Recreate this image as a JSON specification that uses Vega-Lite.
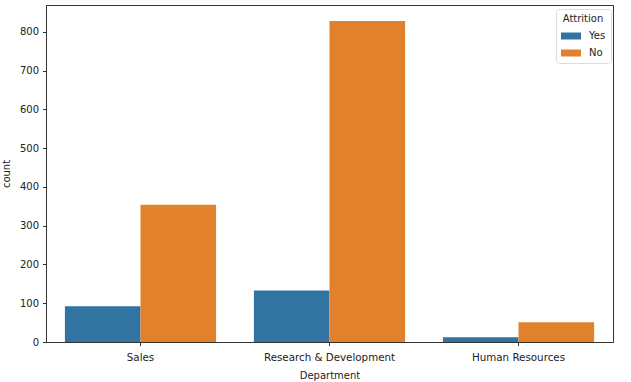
{
  "$schema": "https://vega.github.io/schema/vega-lite/v6.json",
  "autosize": "none",
  "width": 567,
  "height": 337,
  "padding": {"left": 46, "top": 5, "right": 18, "bottom": 40},
  "background": "white",
  "config": {
    "font": "DejaVu Sans",
    "view": {"stroke": "#333333", "strokeWidth": 1},
    "axis": {"grid": false, "labelFont": "DejaVu Sans", "titleFont": "DejaVu Sans", "labelFontSize": 10, "titleFontSize": 10, "labelColor": "#222222", "titleColor": "#222222", "titleFontWeight": "normal", "domainColor": "#333333", "tickColor": "#333333", "tickSize": 3.5, "labelPadding": 4}
  },
  "data": {
    "values": [
      {"Department": "Sales", "Attrition": "Yes", "count": 92},
      {"Department": "Sales", "Attrition": "No", "count": 354},
      {"Department": "Research & Development", "Attrition": "Yes", "count": 133},
      {"Department": "Research & Development", "Attrition": "No", "count": 828},
      {"Department": "Human Resources", "Attrition": "Yes", "count": 12},
      {"Department": "Human Resources", "Attrition": "No", "count": 51}
    ]
  },
  "mark": {"type": "bar"},
  "encoding": {
    "x": {
      "field": "Department", "type": "nominal",
      "sort": ["Sales", "Research & Development", "Human Resources"],
      "scale": {"paddingInner": 0.2, "paddingOuter": 0.1},
      "axis": {"labelAngle": 0, "labelPadding": 7, "titlePadding": 8, "labelFontSize": 10.3}
    },
    "xOffset": {"field": "Attrition", "type": "nominal", "sort": ["Yes", "No"], "scale": {"paddingInner": 0, "paddingOuter": 0}},
    "y": {
      "field": "count", "type": "quantitative",
      "scale": {"domain": [0, 869.4], "nice": false},
      "axis": {"values": [0, 100, 200, 300, 400, 500, 600, 700, 800], "titlePadding": 8}
    },
    "color": {
      "field": "Attrition", "type": "nominal", "sort": ["Yes", "No"],
      "scale": {"domain": ["Yes", "No"], "range": ["#3274a1", "#e1812c"]},
      "legend": {
        "orient": "none", "legendX": 510, "legendY": 4,
        "title": "Attrition", "titleFontSize": 10, "titleFontWeight": "normal", "titleColor": "#222222", "titleAlign": "center", "titleAnchor": "middle", "titlePadding": 2,
        "labelFontSize": 10, "labelColor": "#222222",
        "symbolType": "M-1,-0.35h2v0.7h-2z", "symbolSize": 400, "symbolStrokeWidth": 0,
        "fillColor": "white", "strokeColor": "#dddddd", "padding": 5, "cornerRadius": 3,
        "rowPadding": 2, "labelOffset": 8
      }
    }
  }
}
